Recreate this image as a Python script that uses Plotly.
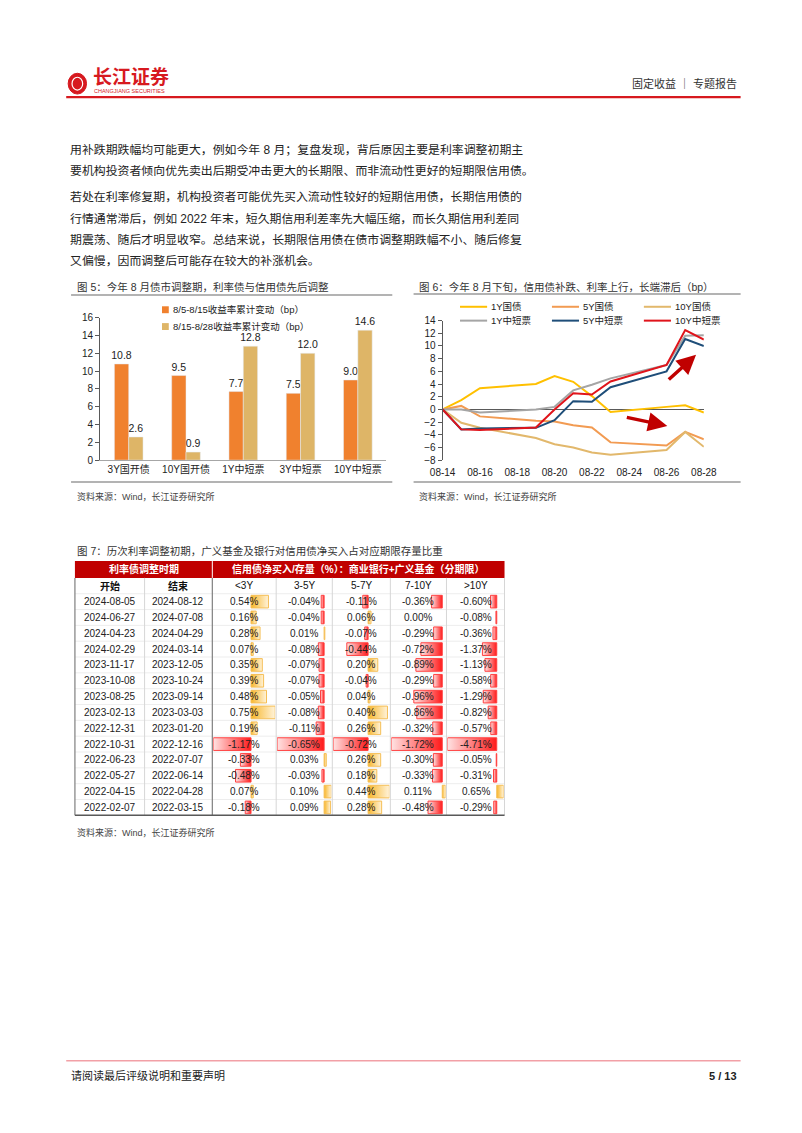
import plotly.graph_objects as go

W, H = 802, 1133
FONT = "Liberation Sans, Noto Sans CJK SC, sans-serif"


def px(x):
    return x / W


def py(y):
    return 1 - y / H


# ---------------- data: body text ----------------
para_lines = [
    "用补跌期跌幅均可能更大，例如今年 8 月；复盘发现，背后原因主要是利率调整初期主",
    "要机构投资者倾向优先卖出后期受冲击更大的长期限、而非流动性更好的短期限信用债。",
    "若处在利率修复期，机构投资者可能优先买入流动性较好的短期信用债，长期信用债的",
    "行情通常滞后，例如 2022 年末，短久期信用利差率先大幅压缩，而长久期信用利差同",
    "期震荡、随后才明显收窄。总结来说，长期限信用债在债市调整期跌幅不小、随后修复",
    "又偏慢，因而调整后可能存在较大的补涨机会。",
]

# ---------------- data: figure 5 ----------------
c5_title = "图 5：今年 8 月债市调整期，利率债与信用债先后调整"
c5_categories = ["3Y国开债", "10Y国开债", "1Y中短票", "3Y中短票", "10Y中短票"]
c5_name1 = "8/5-8/15收益率累计变动（bp）"
c5_values1 = [10.8, 9.5, 7.7, 7.5, 9.0]
c5_name2 = "8/15-8/28收益率累计变动（bp）"
c5_values2 = [2.6, 0.9, 12.8, 12.0, 14.6]

# ---------------- data: figure 6 ----------------
c6_title = "图 6：今年 8 月下旬，信用债补跌、利率上行，长端滞后（bp）"
c6_dates = ["2024-08-14", "2024-08-15", "2024-08-16", "2024-08-19", "2024-08-20",
            "2024-08-21", "2024-08-22", "2024-08-23", "2024-08-26", "2024-08-27",
            "2024-08-28"]
c6_names = ["1Y国债", "5Y国债", "10Y国债", "1Y中短票", "5Y中短票", "10Y中短票"]
gov_1y = [0, 1.45, 3.35, 4.0, 5.25, 4.35, 2.1, -0.4, 0.4, 0.65, -0.5]
gov_5y = [0, 0.55, -1.1, -1.8, -1.9, -2.5, -2.85, -5.2, -5.7, -3.55, -4.7]
gov_10y = [0, -2.1, -2.9, -4.5, -5.5, -6.0, -6.8, -7.15, -6.4, -3.55, -5.9]
mtn_1y = [0, 0, -0.5, 0, 0.4, 3.0, 3.9, 4.9, 7.0, 11.6, 11.7]
mtn_5y = [0, -3.15, -3.0, -2.9, -1.7, 1.3, 1.2, 3.5, 6.0, 11.1, 10.0]
mtn_10y = [0, -3.15, -3.25, -2.85, 0, 2.55, 2.35, 4.4, 7.0, 12.5, 11.0]
c6_series = [gov_1y, gov_5y, gov_10y, mtn_1y, mtn_5y, mtn_10y]
# arrows: (tail date, tail value, head date, head value)
c6_arrows = [
    ("2024-08-26 01:00", 4.5, "2024-08-27 14:00", 8.6),
    ("2024-08-23 19:00", -1.2, "2024-08-26 01:00", -2.6),
]

# ---------------- data: figure 7 table ----------------
t_title = "图 7：历次利率调整初期，广义基金及银行对信用债净买入占对应期限存量比重"
t_head_left = "利率债调整时期"
t_head_right = "信用债净买入/存量（%）：商业银行+广义基金（分期限）"
t_sub = ["开始", "结束", "&lt;3Y", "3-5Y", "5-7Y", "7-10Y", "&gt;10Y"]
t_start = ["2024-08-05", "2024-06-27", "2024-04-23", "2024-02-29", "2023-11-17",
           "2023-10-08", "2023-08-25", "2023-02-13", "2022-12-31", "2022-10-31",
           "2022-06-23", "2022-05-27", "2022-04-15", "2022-02-07"]
t_end = ["2024-08-12", "2024-07-08", "2024-04-29", "2024-03-14", "2023-12-05",
         "2023-10-24", "2023-09-14", "2023-03-03", "2023-01-20", "2022-12-16",
         "2022-07-07", "2022-06-14", "2022-04-28", "2022-03-15"]
t_lt3 = [0.54, 0.16, 0.28, 0.07, 0.35, 0.39, 0.48, 0.75, 0.19, -1.17, -0.33, -0.48, 0.07, -0.18]
t_3_5 = [-0.04, -0.04, 0.01, -0.08, -0.07, -0.07, -0.05, -0.08, -0.11, -0.65, 0.03, -0.03, 0.10, 0.09]
t_5_7 = [-0.11, 0.06, -0.07, -0.44, 0.20, -0.04, 0.04, 0.40, 0.26, -0.72, 0.26, 0.18, 0.44, 0.28]
t_7_10 = [-0.36, 0.00, -0.29, -0.72, -0.89, -0.29, -0.96, -0.86, -0.32, -1.72, -0.30, -0.33, 0.11, -0.48]
t_gt10 = [-0.60, -0.08, -0.36, -1.37, -1.13, -0.58, -1.29, -0.82, -0.57, -4.71, -0.05, -0.31, 0.65, -0.29]
t_columns = [t_lt3, t_3_5, t_5_7, t_7_10, t_gt10]

source_text = "资料来源：Wind，长江证券研究所"

# ---------------- styles ----------------
C5_COLORS = ["#F0812E", "#DEB567"]
C6_COLORS = ["#FFC000", "#F29B52", "#E2B86C", "#A5A5A5", "#1F4E79", "#E0141B"]
RED = "#D7191F"

fig = go.Figure()
ann = []
shapes = []


def text(x, y, s, size=12, color="#222", anchor="left", bold=False):
    ann.append(dict(x=px(x), y=py(y), xref="paper", yref="paper",
                    text=f"<b>{s}</b>" if bold else s, showarrow=False,
                    xanchor=anchor, yanchor="middle",
                    font=dict(size=size, color=color, family=FONT)))


def hline(x0, x1, y, color, width=1):
    shapes.append(dict(type="line", xref="paper", yref="paper", x0=px(x0), x1=px(x1),
                       y0=py(y), y1=py(y), line=dict(color=color, width=width)))


def vline(x, y0, y1, color, width=1):
    shapes.append(dict(type="line", xref="paper", yref="paper", x0=px(x), x1=px(x),
                       y0=py(y0), y1=py(y1), line=dict(color=color, width=width)))


def rect(x0, y0, x1, y1, fill):
    shapes.append(dict(type="rect", xref="paper", yref="paper", x0=px(x0), x1=px(x1),
                       y0=py(y1), y1=py(y0), fillcolor=fill, line=dict(width=0)))


# ---------------- page header / footer ----------------
shapes.append(dict(type="circle", xref="paper", yref="paper", x0=px(57), x1=px(76),
                   y0=py(89), y1=py(68), fillcolor=RED, line=dict(color=RED, width=1)))
shapes.append(dict(type="circle", xref="paper", yref="paper", x0=px(61), x1=px(72),
                   y0=py(85), y1=py(72), fillcolor="rgba(0,0,0,0)",
                   line=dict(color="white", width=1.2)))
text(81, 72, "长江证券", size=19, color=RED, bold=True)
text(82, 86, "CHANGJIANG SECURITIES", size=5.5, color=RED)
text(750, 78, "固定收益 ｜ 专题报告", size=11, color="#333", anchor="right")
hline(55, 752, 92, RED, 2.2)

hline(55, 752, 1066, "#F2A0A6", 1.5)
text(58, 1081, "请阅读最后评级说明和重要声明", size=11, color="#222")
text(750, 1081, "5 / 13", size=11, color="#222", anchor="right", bold=True)

# ---------------- body text ----------------
line_y = [146, 167, 193, 215, 237, 258]
for s, yy in zip(para_lines, line_y):
    text(57, yy, s, size=11.9, color="#222")

# ---------------- figure 5 ----------------
text(64, 284, c5_title, size=10.5, color="#333")
hline(60, 392, 292, "#9A9A9A", 1.5)
hline(60, 392, 481, "#9A9A9A", 1.5)
text(64, 496, source_text, size=9, color="#444")

for name, vals, col in zip([c5_name1, c5_name2], [c5_values1, c5_values2], C5_COLORS):
    fig.add_trace(go.Bar(x=c5_categories, y=vals, name=name, marker_color=col,
                         text=vals, texttemplate="%{y:.1f}", textposition="outside",
                         constraintext="none",
                         textfont=dict(size=10.5, color="#222", family=FONT),
                         cliponaxis=False, showlegend=False,
                         xaxis="x", yaxis="y"))

# manual legend for figure 5
for i, (name, col) in enumerate(zip([c5_name1, c5_name2], C5_COLORS)):
    ly = 307 + 17 * i
    rect(154, ly - 3.5, 161, ly + 3.5, col)
    text(163, ly, name, size=9.5, color="#222")

# ---------------- figure 6 ----------------
text(418, 284, c6_title, size=10.5, color="#333")
hline(414, 752, 291, "#9A9A9A", 1.5)
hline(414, 752, 481, "#9A9A9A", 1.5)
text(418, 496, source_text, size=9, color="#444")

for name, vals, col in zip(c6_names, c6_series, C6_COLORS):
    fig.add_trace(go.Scatter(x=c6_dates, y=vals, name=name, mode="lines",
                             line=dict(color=col, width=2), showlegend=False,
                             xaxis="x2", yaxis="y2"))

# manual legend for figure 6 (3 columns x 2 rows)
leg_x = [462, 557, 652]
leg_y = [304, 318]
for i, (name, col) in enumerate(zip(c6_names, C6_COLORS)):
    lx = leg_x[i % 3]
    ly = leg_y[i // 3]
    shapes.append(dict(type="line", xref="paper", yref="paper", x0=px(lx), x1=px(lx + 28),
                       y0=py(ly), y1=py(ly), line=dict(color=col, width=2)))
    text(lx + 30, ly, name, size=9.5, color="#222")

for tx, ty, hx, hy in c6_arrows:
    ann.append(dict(x=hx, y=hy, ax=tx, ay=ty, xref="x2", yref="y2", axref="x2", ayref="y2",
                    showarrow=True, arrowhead=2, arrowsize=1.1, arrowwidth=3.5,
                    arrowcolor="#C00000", text="", standoff=0))

# ---------------- figure 7 table ----------------
text(64, 551, t_title, size=10.5, color="#333")
text(64, 835, source_text, size=9, color="#444")

col_edges = [64, 136, 206, 272, 330, 390, 448, 508]
col_centers = [(a + b) / 2 for a, b in zip(col_edges[:-1], col_edges[1:])]
row_top, row_h = 594, 16.0
n_rows = len(t_start)
row_centers = [row_top + row_h * (i + 0.5) for i in range(n_rows)]
table_bottom = row_top + row_h * n_rows

# header
rect(64, 561, 508, 578, "#C00000")
vline(206, 561, 578, "white", 1)
text(135, 569.5, t_head_left, size=10, color="white", anchor="center", bold=True)
text(357, 569.5, t_head_right, size=10, color="white", anchor="center", bold=True)
for j, s in enumerate(t_sub):
    text(col_centers[j], 586, s, size=10, color="#111", anchor="center", bold=(j < 2))

# grid
for i in range(n_rows + 1):
    hline(64, 508, row_top + row_h * i, "#E8E8E8", 0.8)
for xe in [136, 272, 330, 390, 448]:
    vline(xe, 578, table_bottom, "#D6D6D6", 1)
vline(508, 578, table_bottom, "#D6D6D6", 1)
vline(206, 578, table_bottom, "#7F7F7F", 1.2)
vline(64, 578, table_bottom, "#7F7F7F", 1.2)
hline(64, 508, table_bottom, "#595959", 1.5)

# data bars (one x-axis per column, shared row axis)
NEG_SCALE = [[0, "#FFE3E3"], [1, "#FF1A1A"]]
POS_SCALE = [[0, "#F8B62A"], [1, "#FFF3DA"]]
for c, vals in enumerate(t_columns):
    axn = c + 3
    for r, v in enumerate(vals):
        if v == 0:
            continue
        rr = r + 1
        neg = v < 0
        fig.add_trace(go.Scatter(
            x=[0, v, v, 0, 0], y=[rr - 0.4, rr - 0.4, rr + 0.4, rr + 0.4, rr - 0.4],
            mode="lines", fill="toself",
            fillcolor="#FF6060" if neg else "#FBCB6A",
            fillgradient=dict(type="horizontal", colorscale=NEG_SCALE if neg else POS_SCALE),
            line=dict(color="#FF4040" if neg else "#F5BE55", width=1),
            showlegend=False, hoverinfo="skip",
            xaxis=f"x{axn}", yaxis="y3"))

# table texts
for r in range(n_rows):
    yy = row_centers[r]
    text(col_centers[0], yy, t_start[r], size=10, color="#222", anchor="center")
    text(col_centers[1], yy, t_end[r], size=10, color="#222", anchor="center")
    for c, vals in enumerate(t_columns):
        text(col_centers[c + 2], yy, f"{vals[r]:.2f}%", size=10, color="#222", anchor="center")

# ---------------- layout ----------------
layout = dict(
    width=W, height=H, autosize=False,
    margin=dict(l=0, r=0, t=0, b=0),
    paper_bgcolor="white", plot_bgcolor="white",
    font=dict(family=FONT, color="#222"),
    barmode="group", bargap=0.5, bargroupgap=0,
    showlegend=False,
    xaxis=dict(domain=[px(90), px(386)], anchor="y", showline=True, linecolor="#A6A6A6",
               ticks="", showgrid=False, tickfont=dict(size=10, color="#222"),
               fixedrange=True),
    yaxis=dict(domain=[py(459), py(315)], anchor="x", range=[0, 16], dtick=2,
               showline=True, linecolor="#595959", ticks="outside", ticklen=4,
               tickcolor="#595959", showgrid=False, zeroline=False,
               tickfont=dict(size=10, color="#222")),
    xaxis2=dict(domain=[px(444), px(714)], anchor="y2", type="date",
                range=["2024-08-14", "2024-08-28"], tick0="2024-08-14",
                dtick=2 * 86400000, tickformat="%m-%d", showline=False, ticks="",
                ticklabelstandoff=5,
                showgrid=False, tickfont=dict(size=10, color="#222")),
    yaxis2=dict(domain=[py(459), py(318)], anchor="x2", range=[-8, 14], dtick=2,
                showline=True, linecolor="#595959", ticks="outside", ticklen=4,
                tickcolor="#595959", showgrid=False, zeroline=True,
                zerolinecolor="#595959", zerolinewidth=1,
                tickfont=dict(size=10, color="#222")),
    yaxis3=dict(domain=[py(table_bottom), py(row_top)], anchor="x3",
                range=[n_rows + 0.5, 0.5], visible=False, fixedrange=True),
    annotations=ann,
    shapes=shapes,
)
for c, vals in enumerate(t_columns):
    axn = c + 3
    lo, hi = min(vals), max(vals)
    layout[f"xaxis{axn}"] = dict(domain=[px(col_edges[c + 2] + 1), px(col_edges[c + 3] - 1)],
                                 anchor="y3", range=[lo, hi], visible=False, fixedrange=True)

fig.update_layout(**layout)
fig.write_html("out.html", config={"displayModeBar": False})
